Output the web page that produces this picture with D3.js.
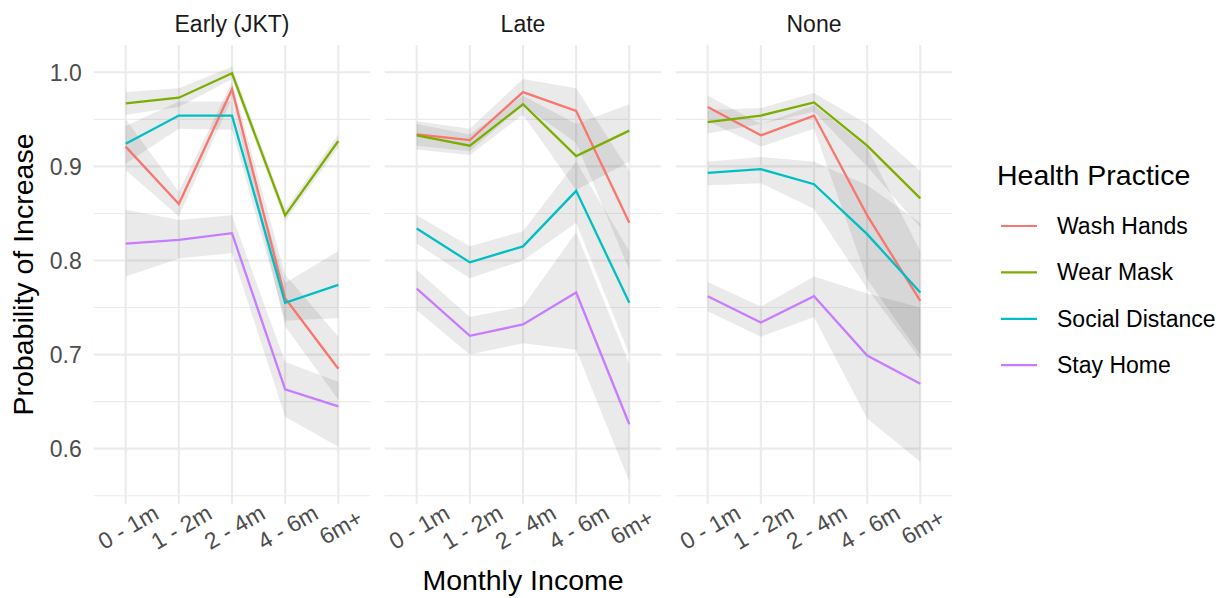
<!DOCTYPE html>
<html lang="en">
<head>
  <meta charset="UTF-8">
  <title>Probability of Increase by Monthly Income</title>
  <script src="https://d3js.org/d3.v7.min.js"></script>
  <style>
    body { margin: 0; background: #fff; }
    svg text { font-family: "Liberation Sans", Arial, Helvetica, sans-serif; }
  </style>
</head>
<body>
  <div class="canvas"></div>
  <script>
    // categories
    const incomeLevels = ['0 - 1m', '1 - 2m', '2 - 4m', '4 - 6m', '6m+'];
    const timings = ['Early (JKT)', 'Late', 'None'];
    const practices = ['Wash Hands', 'Wear Mask', 'Social Distance', 'Stay Home'];
    const practiceColors = ['#F8766D', '#7CAE00', '#00BFC4', '#C77CFF'];
    const yTicks = [0.6, 0.7, 0.8, 0.9, 1.0];
    const yMinorTicks = [0.55, 0.65, 0.75, 0.85, 0.95];

    // rows follow practices order, columns follow incomeLevels
    const earlyMean = [
      [0.921, 0.860, 0.982, 0.760, 0.685],
      [0.967, 0.973, 0.999, 0.848, 0.927],
      [0.924, 0.954, 0.954, 0.755, 0.774],
      [0.818, 0.822, 0.829, 0.663, 0.645]
    ];
    const earlyLow = [
      [0.896, 0.847, 0.972, 0.730, 0.652],
      [0.955, 0.963, 0.993, 0.842, 0.920],
      [0.903, 0.940, 0.939, 0.736, 0.739],
      [0.783, 0.802, 0.808, 0.634, 0.602]
    ];
    const earlyHigh = [
      [0.950, 0.873, 0.990, 0.785, 0.719],
      [0.979, 0.983, 1.006, 0.854, 0.934],
      [0.943, 0.969, 0.969, 0.776, 0.810],
      [0.854, 0.843, 0.848, 0.692, 0.671]
    ];

    const lateMean = [
      [0.934, 0.928, 0.979, 0.959, 0.840],
      [0.933, 0.922, 0.966, 0.911, 0.938],
      [0.834, 0.798, 0.815, 0.874, 0.755],
      [0.770, 0.720, 0.732, 0.766, 0.626]
    ];
    const lateLow = [
      [0.922, 0.916, 0.965, 0.925, 0.790],
      [0.918, 0.912, 0.955, 0.875, 0.905],
      [0.818, 0.781, 0.800, 0.840, 0.700],
      [0.747, 0.700, 0.712, 0.705, 0.565]
    ];
    const lateHigh = [
      [0.948, 0.940, 0.993, 0.983, 0.895],
      [0.945, 0.934, 0.975, 0.945, 0.966],
      [0.848, 0.815, 0.831, 0.905, 0.810],
      [0.790, 0.740, 0.751, 0.830, 0.690]
    ];

    const noneMean = [
      [0.963, 0.933, 0.954, 0.848, 0.757],
      [0.947, 0.954, 0.968, 0.922, 0.866],
      [0.893, 0.897, 0.881, 0.828, 0.766],
      [0.762, 0.734, 0.762, 0.699, 0.669]
    ];
    const noneLow = [
      [0.948, 0.921, 0.940, 0.780, 0.700],
      [0.935, 0.945, 0.958, 0.900, 0.835],
      [0.880, 0.882, 0.855, 0.770, 0.695],
      [0.746, 0.719, 0.740, 0.632, 0.586]
    ];
    const noneHigh = [
      [0.975, 0.945, 0.965, 0.920, 0.810],
      [0.960, 0.962, 0.978, 0.945, 0.895],
      [0.905, 0.910, 0.905, 0.880, 0.840],
      [0.777, 0.751, 0.783, 0.765, 0.750]
    ];

    const panelData = [
      { mean: earlyMean, low: earlyLow, high: earlyHigh },
      { mean: lateMean, low: lateLow, high: lateHigh },
      { mean: noneMean, low: noneLow, high: noneHigh }
    ];

    const width = 1225;
    const height = 598;
    const panelTop = 45;
    const panelBottom = 504;
    const panelLeft = 93.8;
    const panelWidth = 276.4;
    const panelGap = 14.6;

    const svg = d3.select('.canvas')
                  .append('svg')
                  .attr('width', width)
                  .attr('height', height);

    const y = d3.scaleLinear()
                .domain([0.5412, 1.029])
                .range([panelBottom, panelTop]);

    const color = d3.scaleOrdinal()
                    .domain(practices)
                    .range(practiceColors);

    timings.forEach((timing, p) => {
      const left = panelLeft + p * (panelWidth + panelGap);
      const xp = d3.scalePoint()
                   .domain(incomeLevels)
                   .range([left, left + panelWidth])
                   .padding(0.6);

      const g = svg.append('g');

      // grid
      g.selectAll('.minor')
        .data(yMinorTicks)
        .enter().append('line')
        .attr('x1', left).attr('x2', left + panelWidth)
        .attr('y1', d => y(d)).attr('y2', d => y(d))
        .attr('stroke', '#ebebeb').attr('stroke-width', 1.1);

      g.selectAll('.major')
        .data(yTicks)
        .enter().append('line')
        .attr('x1', left).attr('x2', left + panelWidth)
        .attr('y1', d => y(d)).attr('y2', d => y(d))
        .attr('stroke', '#ebebeb').attr('stroke-width', 2.1);

      g.selectAll('.vgrid')
        .data(incomeLevels)
        .enter().append('line')
        .attr('x1', d => xp(d)).attr('x2', d => xp(d))
        .attr('y1', panelTop).attr('y2', panelBottom)
        .attr('stroke', '#ebebeb').attr('stroke-width', 2.1);

      const data = panelData[p];

      // ribbons first, then lines on top
      const area = d3.area()
                     .x((d, i) => xp(incomeLevels[i]))
                     .y0(d => y(d[0]))
                     .y1(d => y(d[1]));

      practices.forEach((name, s) => {
        const band = data.low[s].map((v, i) => [v, data.high[s][i]]);
        g.append('path')
          .attr('d', area(band))
          .attr('fill', '#333333')
          .attr('fill-opacity', 0.1);
      });

      const line = d3.line()
                     .x((d, i) => xp(incomeLevels[i]))
                     .y(d => y(d));

      practices.forEach((name, s) => {
        g.append('path')
          .attr('d', line(data.mean[s]))
          .attr('fill', 'none')
          .attr('stroke', color(name))
          .attr('stroke-width', 2.3);
      });

      // strip title
      svg.append('text')
        .attr('x', left + panelWidth / 2)
        .attr('y', 32)
        .attr('text-anchor', 'middle')
        .attr('fill', '#1a1a1a')
        .style('font-size', '23px')
        .text(timing);

      // x axis labels
      const xAxisG = svg.append('g')
                        .attr('transform', `translate(0, ${panelBottom})`)
                        .call(d3.axisBottom(xp).tickSize(0));
      xAxisG.select('.domain').remove();
      xAxisG.selectAll('text')
        .attr('y', 0)
        .attr('dy', null)
        .attr('transform', 'translate(2, 23) rotate(-30)')
        .attr('text-anchor', 'middle')
        .attr('dominant-baseline', 'central')
        .attr('fill', '#4d4d4d')
        .style('font-size', '23px')
        .style('font-family', '"Liberation Sans", Arial, sans-serif');
    });

    // y axis labels
    const yAxisG = svg.append('g')
                      .attr('transform', `translate(${panelLeft}, 0)`)
                      .call(d3.axisLeft(y).tickValues(yTicks).tickSize(0).tickPadding(12).tickFormat(d3.format('.1f')));
    yAxisG.select('.domain').remove();
    yAxisG.selectAll('text')
      .attr('dy', null)
      .attr('dominant-baseline', 'central')
      .attr('fill', '#4d4d4d')
      .style('font-size', '23px')
      .style('font-family', '"Liberation Sans", Arial, sans-serif');

    // axis titles
    svg.append('text')
      .attr('x', panelLeft + (3 * panelWidth + 2 * panelGap) / 2)
      .attr('y', 590)
      .attr('text-anchor', 'middle')
      .style('font-size', '28.5px')
      .text('Monthly Income');

    svg.append('text')
      .attr('transform', `translate(33, ${(panelTop + panelBottom) / 2}) rotate(-90)`)
      .attr('text-anchor', 'middle')
      .style('font-size', '28.5px')
      .text('Probability of Increase');

    // legend
    const legend = svg.append('g').attr('transform', 'translate(997, 0)');
    legend.append('text')
      .attr('x', 0)
      .attr('y', 185)
      .style('font-size', '28.5px')
      .text('Health Practice');

    const item = legend.selectAll('.item')
                       .data(practices)
                       .enter().append('g')
                       .attr('transform', (d, i) => `translate(0, ${226 + i * 46.4})`);
    item.append('line')
      .attr('x1', 4).attr('x2', 40)
      .attr('stroke', d => color(d))
      .attr('stroke-width', 2.2);
    item.append('text')
      .attr('x', 60)
      .attr('dominant-baseline', 'central')
      .style('font-size', '23px')
      .text(d => d);
  </script>
</body>
</html>
